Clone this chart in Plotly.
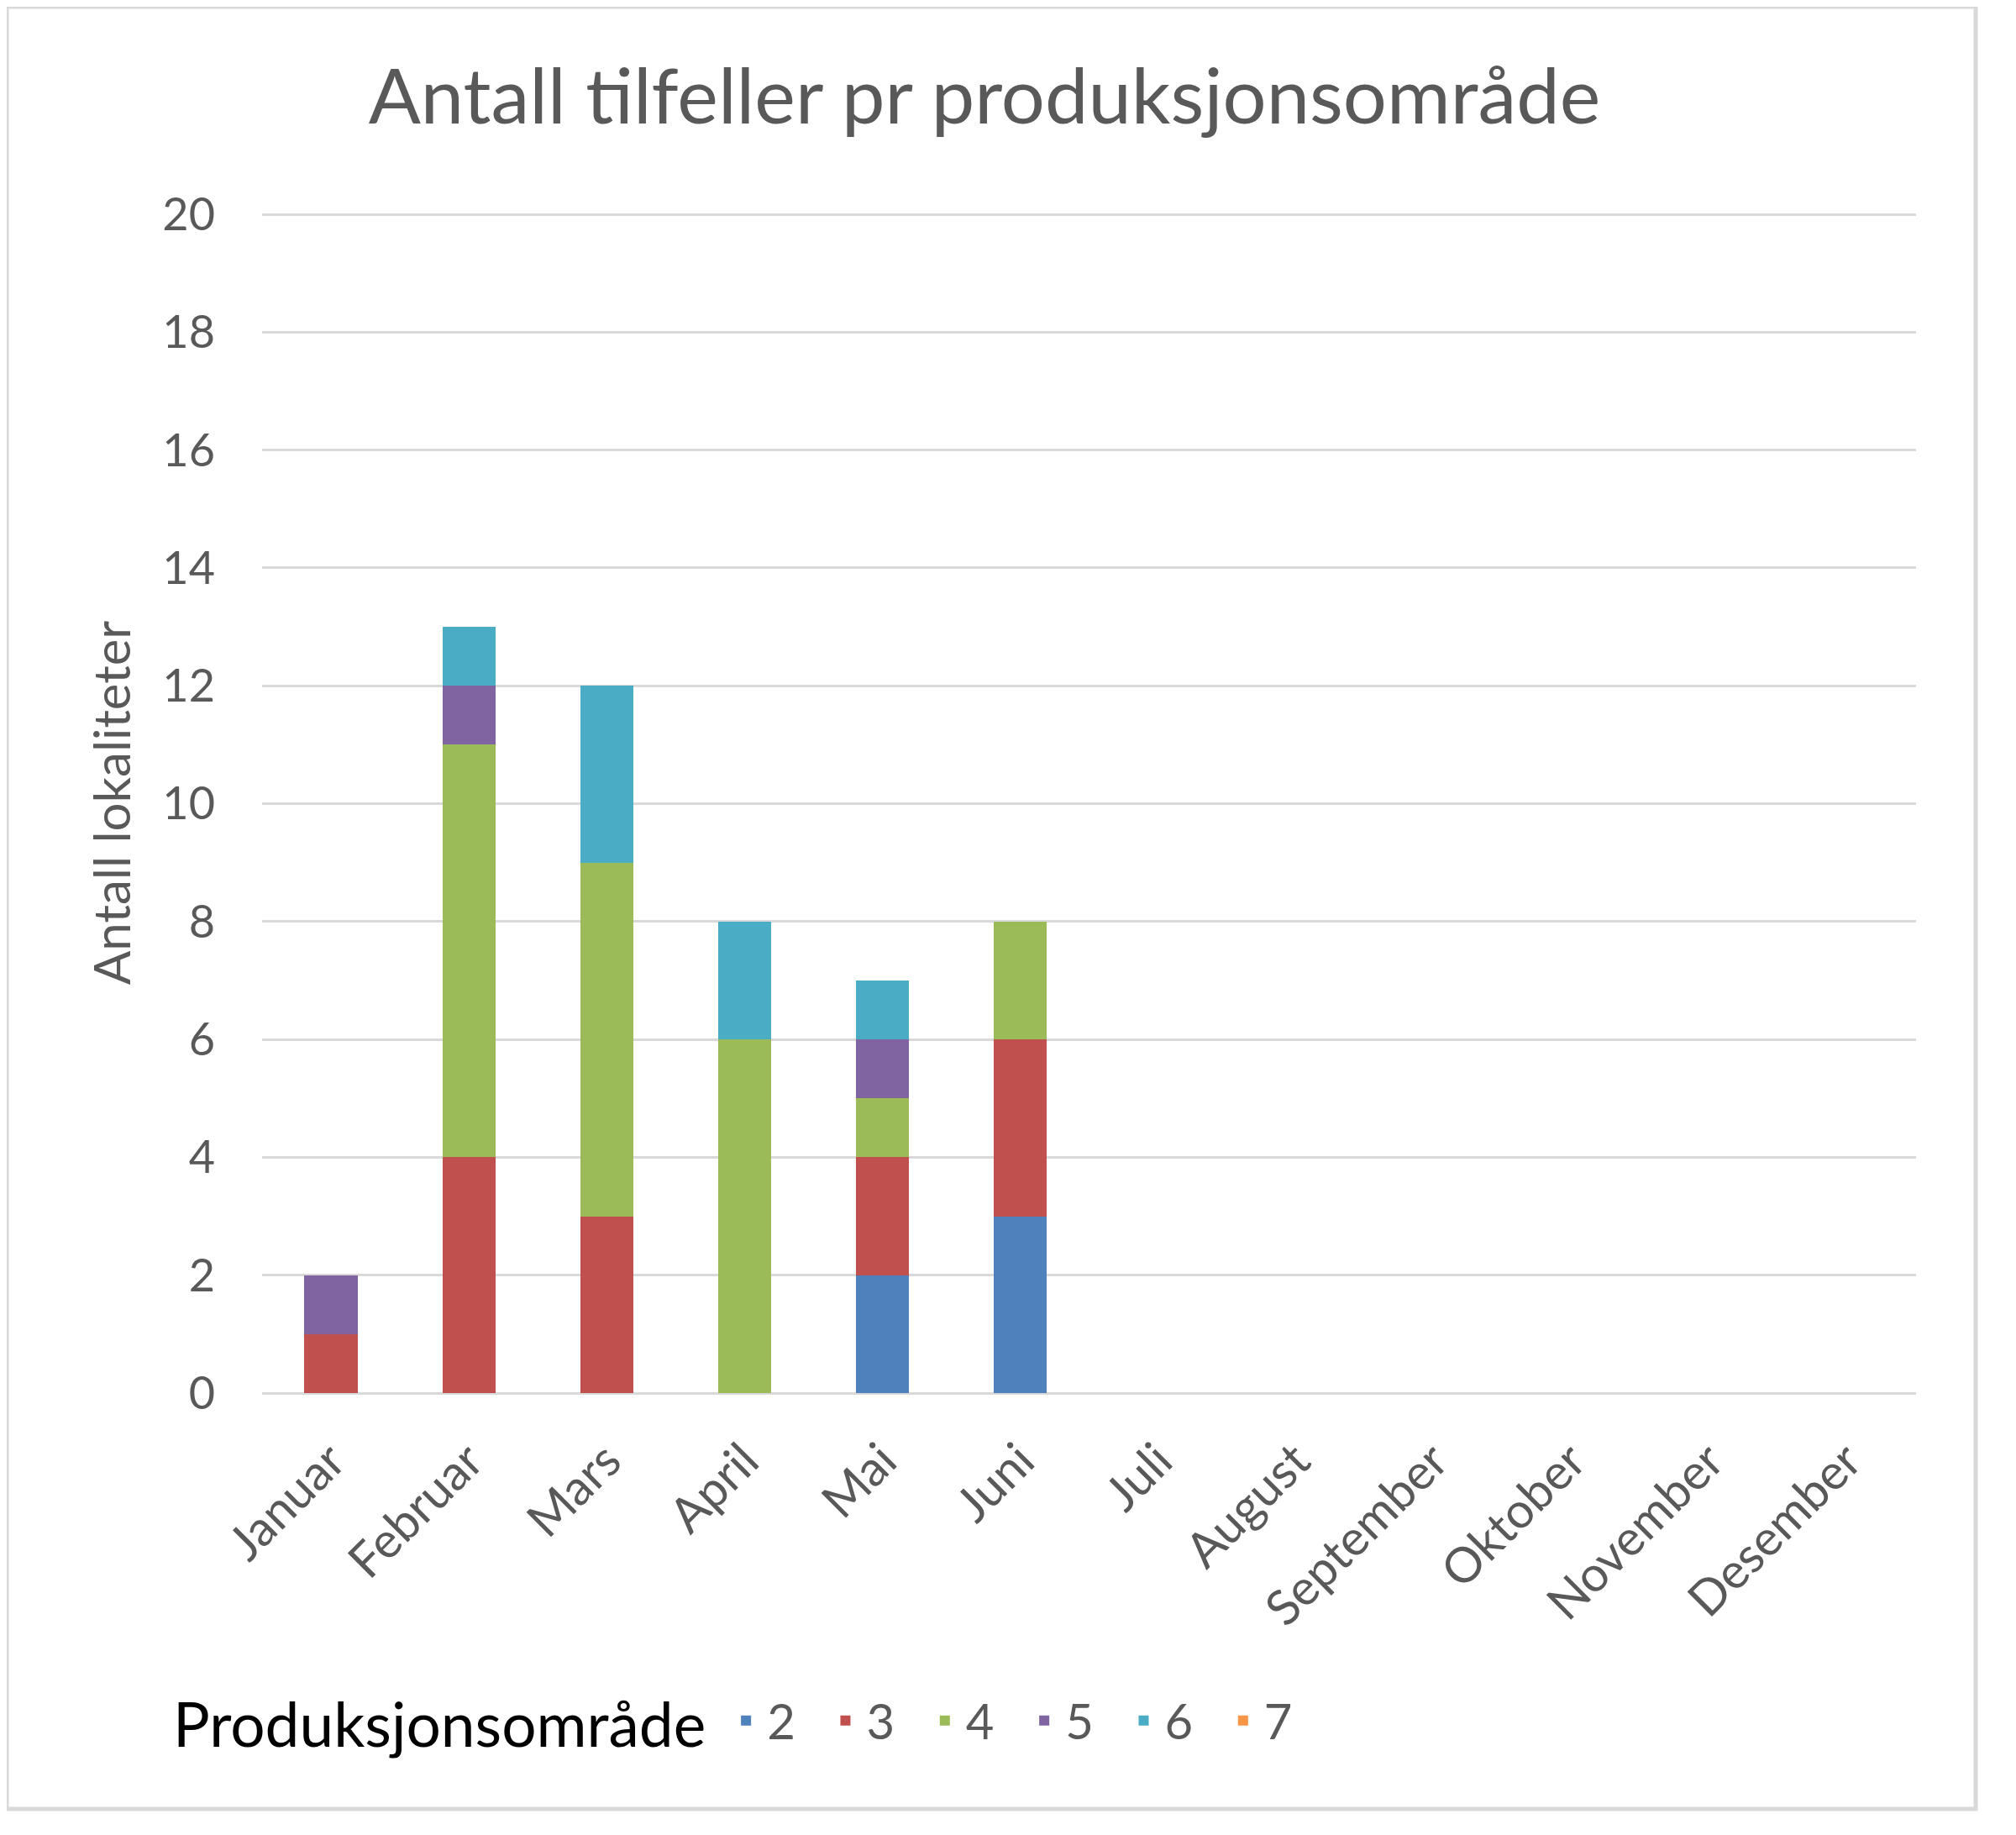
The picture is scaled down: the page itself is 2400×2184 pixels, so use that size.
import plotly.graph_objects as go

# månedene på x-aksen
months = ["Januar", "Februar", "Mars", "April", "Mai", "Juni",
          "Juli", "August", "September", "Oktober", "November", "Desember"]

# antall lokaliteter per produksjonsområde (bare jan-jun har tall)
po2 = [0, 0, 0, 0, 2, 3, None, None, None, None, None, None]
po3 = [1, 4, 3, 0, 2, 3, None, None, None, None, None, None]
po4 = [0, 7, 6, 6, 1, 2, None, None, None, None, None, None]
po5 = [1, 1, 0, 0, 1, 0, None, None, None, None, None, None]
po6 = [0, 1, 3, 2, 1, 0, None, None, None, None, None, None]
po7 = [0, 0, 0, 0, 0, 0, None, None, None, None, None, None]

series = [("2", po2, "#4F81BD"), ("3", po3, "#C0504D"), ("4", po4, "#9BBB59"),
          ("5", po5, "#8064A2"), ("6", po6, "#4BACC6"), ("7", po7, "#F79646")]

W, H = 2384, 2168
L, R, T, B = 304, 111, 245, 518
pw = W - L - R
ph = H - T - B

FONT = "Lato"
GREY = "#595959"
PAD = "\u00a0" * 2  # litt luft mellom legendeelementene

fig = go.Figure()
for name, vals, col in series:
    fig.add_trace(go.Bar(x=months, y=vals, name=name + PAD, marker_color=col,
                         marker_line_width=0))

# ramme rundt hele diagrammet
fig.add_shape(type="rect", xref="paper", yref="paper",
              x0=(0 - L) / pw, x1=(2344 - L) / pw,
              y0=(ph + T - 2145) / ph, y1=(ph + T - 0) / ph,
              line=dict(color="#D9D9D9", width=5), fillcolor="rgba(0,0,0,0)",
              layer="below")

fig.update_layout(
    width=W, height=H,
    margin=dict(l=L, r=R, t=T, b=B),
    barmode="stack",
    bargap=0.615,
    plot_bgcolor="white",
    paper_bgcolor="white",
    font=dict(family=FONT, size=54, color=GREY),
    title=dict(text="Antall tilfeller pr produksjonsområde",
               x=1164 / W, xanchor="center",
               y=1 - 107 / H, yanchor="middle",
               font=dict(family=FONT, size=92, color=GREY)),
    xaxis=dict(
        type="category",
        tickangle=-45,
        showgrid=False,
        showline=False,
        ticks="",
        ticklabelstandoff=34,
        tickfont=dict(size=58, color=GREY),
    ),
    yaxis=dict(
        range=[0, 20.03],
        tickvals=list(range(0, 21, 2)),
        showgrid=True,
        gridcolor="#D9D9D9",
        gridwidth=3,
        zeroline=True,
        zerolinecolor="#D9D9D9",
        zerolinewidth=3,
        showline=False,
        ticks="",
        ticklabelstandoff=55,
        tickfont=dict(size=54, color=GREY),
        title=dict(text="Antall lokaliteter", standoff=18,
                   font=dict(size=60, color=GREY)),
    ),
    legend=dict(
        orientation="h",
        x=(196 - L) / pw, xanchor="left",
        y=(ph + T - 2040) / ph, yanchor="middle",
        title=dict(text='<span style="font-size:73px">Produksjonsområde</span> ',
                   side="left",
                   font=dict(size=58, color="black")),
        font=dict(size=58, color=GREY),
        traceorder="normal",
        itemwidth=40,
    ),
    showlegend=True,
)

fig.write_html("out.html")
